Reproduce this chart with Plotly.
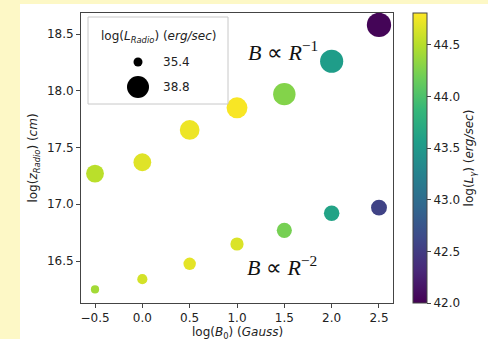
import plotly.graph_objects as go

# ---- data ----
log_B0 = [-0.5, 0.0, 0.5, 1.0, 1.5, 2.0, 2.5]
z_upper = [17.27, 17.37, 17.655, 17.85, 17.97, 18.26, 18.58]   # B ∝ R^-1
z_lower = [16.25, 16.34, 16.475, 16.65, 16.77, 16.92, 16.97]   # B ∝ R^-2
Lrad_upper = [37.7, 37.7, 38.2, 38.5, 38.9, 39.1, 39.4]
Lrad_lower = [35.2, 35.7, 36.3, 36.5, 37.0, 37.1, 37.2]
Lgam_upper = [44.52, 44.68, 44.74, 44.79, 44.28, 43.55, 42.03]
Lgam_lower = [44.42, 44.63, 44.7, 44.66, 44.22, 43.62, 42.57]
legend_vals = [35.4, 38.8]
cmin, cmax = 42.0, 44.81

def size_of(L):
    return 9 + (L - 35.4) * (22 - 9) / (38.8 - 35.4)

W, H = 488, 339
L_, R_, T_, B_ = 81, 95, 13, 36
pw, ph = W - L_ - R_, H - T_ - B_

def px(x):  # pixel -> paper x
    return (x - L_) / pw

def py(y):  # pixel -> paper y
    return (H - B_ - y) / ph

FONT = "DejaVu Sans"
TXT = "#222222"
FS = 12

fig = go.Figure()

allx = log_B0 + log_B0
ally = z_upper + z_lower
alls = [size_of(v) for v in Lrad_upper + Lrad_lower]
allc = Lgam_upper + Lgam_lower

fig.add_trace(go.Scatter(
    x=allx, y=ally, mode="markers", showlegend=False,
    marker=dict(size=alls, color=allc, colorscale="Viridis", cmin=cmin, cmax=cmax,
                line=dict(width=0), opacity=1,
                colorbar=dict(
                    x=px(413), xanchor="left", y=0.5, yanchor="middle", len=1.0,
                    xpad=0, ypad=0,
                    thickness=14, outlinewidth=1, outlinecolor="#444",
                    ticks="outside", ticklen=4, tickcolor="#444",
                    tickvals=[42.0, 42.5, 43.0, 43.5, 44.0, 44.5],
                    ticktext=["42.0", "42.5", "43.0", "43.5", "44.0", "44.5"],
                    tickfont=dict(family=FONT, size=FS, color=TXT),
                    title=dict(text="log(<i>L</i><sub><i>γ</i></sub>) (<i>erg/sec</i>)",
                               side="right", font=dict(family=FONT, size=FS, color=TXT)),
                )),
    hoverinfo="skip"))

shapes = []
# background: yellow strip, white figure area
shapes.append(dict(type="rect", xref="paper", yref="paper", layer="below",
                   x0=px(20), x1=px(W + 5), y0=py(H + 5), y1=py(4),
                   fillcolor="white", line=dict(width=0)))
# legend box
shapes.append(dict(type="rect", xref="paper", yref="paper",
                   x0=px(88), x1=px(228), y0=py(104), y1=py(17),
                   fillcolor="white", line=dict(color="#c8c8c8", width=1)))
# legend markers
for v, yy in zip(legend_vals, [62, 87]):
    r = size_of(v) / 2
    shapes.append(dict(type="circle", xref="paper", yref="paper",
                       xsizemode="pixel", ysizemode="pixel",
                       xanchor=px(138), yanchor=py(yy),
                       x0=-r, x1=r, y0=-r, y1=r,
                       fillcolor="black", line=dict(width=0)))

annotations = [
    dict(xref="paper", yref="paper", x=px(158), y=py(37), showarrow=False,
         text="log(<i>L</i><sub><i>Radio</i></sub>) (<i>erg/sec</i>)",
         font=dict(family=FONT, size=FS, color=TXT), xanchor="center", yanchor="middle"),
    dict(xref="paper", yref="paper", x=0.5, y=py(332.5), showarrow=False,
         text="log(<i>B</i><sub>0</sub>) (<i>Gauss</i>)",
         font=dict(family=FONT, size=FS, color=TXT), xanchor="center", yanchor="middle",
         borderpad=0),
]
for v, yy in zip(legend_vals, [62, 87]):
    annotations.append(dict(xref="paper", yref="paper", x=px(161), y=py(yy), showarrow=False,
                            text=f"{v:.1f}", font=dict(family=FONT, size=FS, color=TXT),
                            xanchor="left", yanchor="middle"))
annotations.append(dict(x=1.49, y=18.35, xref="x", yref="y", showarrow=False,
                        text="<i>B</i> ∝ <i>R</i><sup>−1</sup>",
                        font=dict(family="Liberation Serif", size=22, color="#111")))
annotations.append(dict(x=1.48, y=16.46, xref="x", yref="y", showarrow=False,
                        text="<i>B</i> ∝ <i>R</i><sup>−2</sup>",
                        font=dict(family="Liberation Serif", size=22, color="#111")))

axis_common = dict(showgrid=False, zeroline=False, showline=True, mirror=True,
                   linecolor="#444", linewidth=1, ticks="outside", ticklen=4,
                   tickcolor="#444", tickfont=dict(family=FONT, size=FS, color=TXT))

fig.update_layout(
    width=W, height=H, margin=dict(l=L_, r=R_, t=T_, b=B_, autoexpand=False),
    paper_bgcolor="#fdf8c6", plot_bgcolor="white",
    shapes=shapes, annotations=annotations,
    xaxis=dict(range=[-0.648, 2.648],
               tickvals=[-0.5, 0.0, 0.5, 1.0, 1.5, 2.0, 2.5],
               ticktext=["−0.5", "0.0", "0.5", "1.0", "1.5", "2.0", "2.5"],
               **axis_common),
    yaxis=dict(range=[16.13, 18.685],
               tickvals=[16.5, 17.0, 17.5, 18.0, 18.5],
               ticktext=["16.5", "17.0", "17.5", "18.0", "18.5"],
               title=dict(text="log(<i>z</i><sub><i>Radio</i></sub>) (<i>cm</i>)", standoff=6,
                          font=dict(family=FONT, size=FS, color=TXT)),
               **axis_common),
)

fig.write_html("out.html")
